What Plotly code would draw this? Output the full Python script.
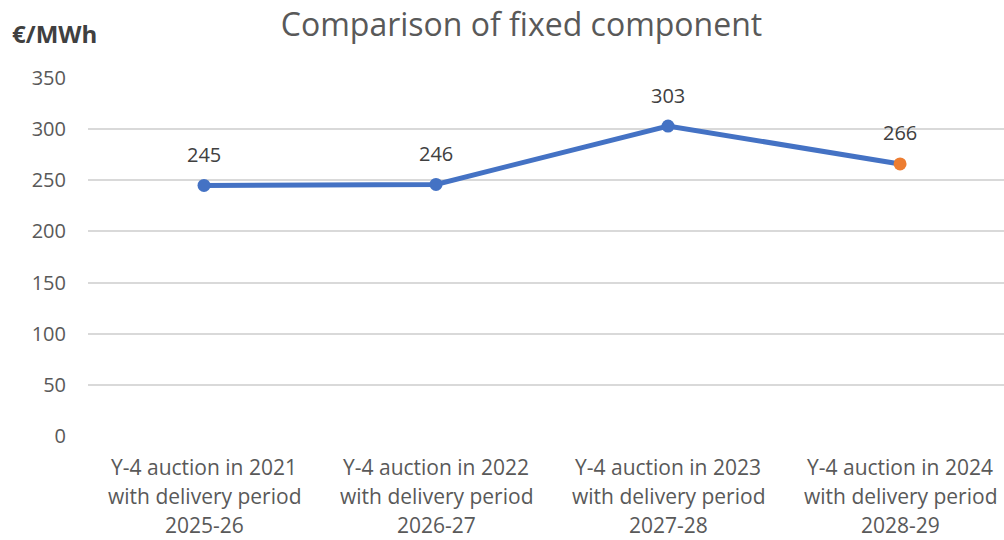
import plotly.graph_objects as go

categories = [
    "Y-4 auction in 2021<br>with delivery period<br>2025-26",
    "Y-4 auction in 2022<br>with delivery period<br>2026-27",
    "Y-4 auction in 2023<br>with delivery period<br>2027-28",
    "Y-4 auction in 2024<br>with delivery period<br>2028-29",
]
values = [245, 246, 303, 266]
labels = ["245", "246", "303", "266"]
marker_colors = ["#4472C4", "#4472C4", "#4472C4", "#ED7D31"]
y_ticks = [0, 50, 100, 150, 200, 250, 300, 350]

FONT = "Open Sans, Segoe UI, sans-serif"
TXT = "#595959"

W, H = 1004, 540
ML, MT, MB = 88, 78, 104
PW, PH = W - ML, H - MT - MB

fig = go.Figure()
fig.add_trace(go.Scatter(
    x=list(range(len(categories))), y=values,
    mode="lines+markers",
    line=dict(color="#4472C4", width=5),
    marker=dict(color=marker_colors, size=13),
    cliponaxis=False, showlegend=False, hoverinfo="skip",
))

annotations = []
# data labels
for i, (v, t) in enumerate(zip(values, labels)):
    annotations.append(dict(x=i, y=v, xref="x", yref="y", text=t, showarrow=False,
                            yanchor="middle", yshift=31,
                            font=dict(family=FONT, size=20, color="#404040")))
# category labels (multi-line, Excel-like line spacing)
for i, cat in enumerate(categories):
    for j, line in enumerate(cat.split("<br>")):
        annotations.append(dict(x=i, y=0, xref="x", yref="paper", text=line,
                                showarrow=False, yanchor="middle", borderpad=0,
                                yshift=-31 - 29 * j,
                                font=dict(family=FONT, size=21, color=TXT)))
# axis unit label
annotations.append(dict(text="<b>€/MWh</b>", xref="paper", yref="paper",
                        x=-(ML - 10) / PW, y=1 + (MT - 33) / PH,
                        xanchor="left", yanchor="middle", showarrow=False,
                        font=dict(family=FONT, size=24, color="#404040")))

fig.update_layout(
    width=W, height=H,
    paper_bgcolor="white", plot_bgcolor="white",
    margin=dict(l=ML, r=0, t=MT, b=MB, autoexpand=False),
    title=dict(text="Comparison of fixed component", x=521.5 / W, xanchor="center",
               y=1 - 25 / H, yanchor="middle",
               font=dict(family=FONT, size=32, color=TXT)),
    font=dict(family=FONT, color=TXT),
    xaxis=dict(
        range=[-0.5, 3.448], tickmode="array",
        tickvals=list(range(len(categories))), ticktext=[""] * len(categories),
        showgrid=False, zeroline=False, showline=False, ticks="",
    ),
    yaxis=dict(
        range=[0, 350], tickmode="array", tickvals=y_ticks,
        showgrid=True, gridcolor="#D9D9D9", gridwidth=1.5,
        zeroline=False, showline=False, ticks="", ticklabelstandoff=21,
        tickfont=dict(family=FONT, size=20, color=TXT),
    ),
    annotations=annotations,
)

fig.write_html("out.html", config={"displayModeBar": False},
               post_script="document.body.style.margin='0';document.body.style.overflow='hidden';")
